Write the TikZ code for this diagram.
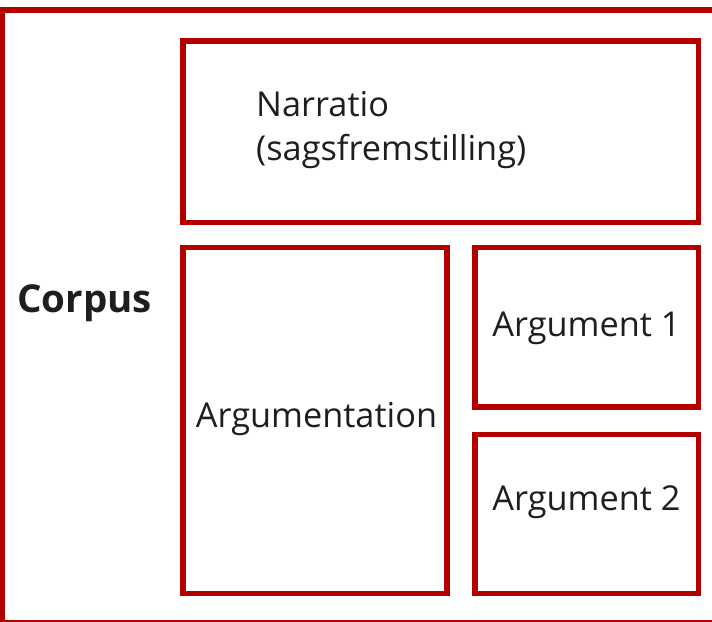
\documentclass[tikz,border=0pt]{standalone}
\usepackage{fontspec}
\setmainfont{Open Sans}
\definecolor{boxred}{RGB}{178,0,0}
\definecolor{ink}{RGB}{30,30,32}
\tikzset{
  frame/.style={draw=boxred, line width=5.5pt, rectangle, inner sep=0pt, anchor=north west},
  lbl/.style={text=ink, inner sep=0pt, font=\fontsize{34.3}{41}\selectfont},
}
\begin{document}
\begin{tikzpicture}[x=1pt,y=1pt]
\useasboundingbox (0,0) rectangle (712,621);
% outer frame (partly cut by the page edge)
\node[frame, minimum width=716pt, minimum height=612pt] (corpusbox) at (-1,613.5) {};
% inner boxes
\node[frame, minimum width=515.5pt, minimum height=181.5pt] (narratio) at (180,582.5) {};
\node[frame, minimum width=264pt, minimum height=346pt] (argumentation) at (180,376) {};
\node[frame, minimum width=223.5pt, minimum height=159.5pt] (arg1) at (472,376) {};
\node[frame, minimum width=223.5pt, minimum height=159pt] (arg2) at (472,189) {};
% labels
\node[lbl, anchor=base west, font=\fontsize{38.5}{46}\selectfont\bfseries] (corpuslbl) at (17,308) {Corpus};
\node[lbl, anchor=base west] (narratiolbl1) at (256,504) {Narratio};
\node[lbl, anchor=base west] (narratiolbl2) at (256,460) {(sagsfremstilling)};
\node[lbl, anchor=base] (argumentationlbl) at (316.5,193) {Argumentation};
\node[lbl, anchor=base] (arg1lbl) at (586.5,284) {Argument 1};
\node[lbl, anchor=base] (arg2lbl) at (586.5,110) {Argument 2};
\end{tikzpicture}
\end{document}
